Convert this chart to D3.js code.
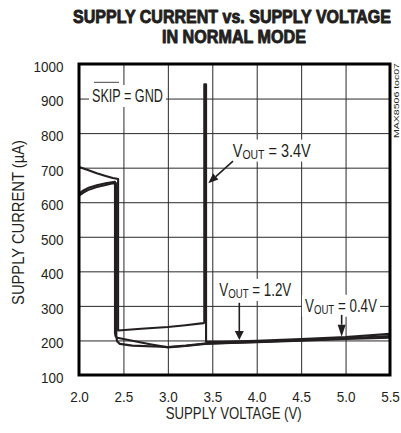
<!DOCTYPE html>
<html><head><meta charset="utf-8">
<script src="https://cdn.jsdelivr.net/npm/d3@7"></script>
<style>
html,body{margin:0;padding:0;background:#fff;}
svg{display:block;}
text{font-family:"Liberation Sans", Arial, sans-serif; fill:#231f20;}
</style></head><body>
<svg id="c" width="401" height="433"></svg>
<script>
// ---------- data ----------
const voltageTicks = [2.0, 2.5, 3.0, 3.5, 4.0, 4.5, 5.0, 5.5];
const currentTicks = [100, 200, 300, 400, 500, 600, 700, 800, 900, 1000];
// [supply voltage (V), supply current (uA)]
const vout34 = [[2.0,702],[2.1,693],[2.2,684],[2.3,676],[2.38,670],[2.44,667],[2.44,229],[2.7,234],[3.0,239],[3.2,244],[3.4,250],[3.41,251],[3.41,941],[3.43,941],[3.43,196],[3.6,196],[4.0,199],[4.5,204],[5.0,210],[5.5,219]];
const vout12 = [[2.0,625],[2.05,634],[2.1,641],[2.2,649],[2.3,655],[2.37,658],[2.405,659],[2.405,222],[2.41,213],[2.43,208],[2.6,199],[2.8,189],[3.0,180],[3.2,184],[3.42,190],[4.0,196],[4.5,201],[5.0,206],[5.5,213]];
const vout04 = [[2.0,619],[2.05,628],[2.1,635],[2.2,644],[2.3,650],[2.37,654],[2.42,655],[2.42,210],[2.43,197],[2.46,190],[2.6,185],[3.0,181],[3.2,185],[3.42,191],[4.0,195],[4.5,199],[5.0,204],[5.5,208]];
const seriesList = [vout34, vout12, vout04];

// ---------- layout ----------
const L = 79, R = 390, T = 64, B = 375;
const svg = d3.select('#c');
const x = d3.scaleLinear().domain([2, 5.5]).range([L, R]);
const y = d3.scaleLinear().domain([100, 1000]).range([B, T]);
const ink = '#231f20';

function fitText(parent, px, py, width, build, opts = {}) {
  const g = parent.append('g').attr('transform', `translate(${px},${py}) rotate(${opts.rot || 0})`);
  const t = g.append('text').attr('text-anchor', opts.anchor || 'start')
    .style('font-size', (opts.size || 15) + 'px')
    .style('font-weight', opts.weight || 'normal');
  if (typeof build === 'string') t.text(build); else build(t);
  if (opts.stroke) t.style('stroke', ink).style('stroke-width', opts.stroke).style('stroke-linejoin', 'round');
  const w = t.node().getComputedTextLength();
  t.attr('transform', `scale(${width / w},1)`);
  return t;
}

// grid
const gx = svg.append('g').attr('transform', `translate(0,${B})`)
  .call(d3.axisBottom(x).tickValues(voltageTicks).tickSize(-(B - T)).tickFormat(''));
gx.select('.domain').remove();
gx.selectAll('line').attr('stroke', '#2a2a2a').attr('stroke-width', 1);
const gy = svg.append('g').attr('transform', `translate(${L},0)`)
  .call(d3.axisLeft(y).tickValues(currentTicks).tickSize(-(R - L)).tickFormat(''));
gy.select('.domain').remove();
gy.selectAll('line').attr('stroke', '#2a2a2a').attr('stroke-width', 1);

// annotation backgrounds
const boxes = [
  {v: 2.146, i: 890, w: 71},
  {v: 3.730, i: 732, w: 78},
  {v: 3.579, i: 329, w: 72},
  {v: 4.543, i: 283, w: 72}
];
svg.append('g').selectAll('rect').data(boxes).join('rect')
  .attr('x', d => x(d.v) - 3).attr('y', d => y(d.i) - 17)
  .attr('width', d => d.w + 6).attr('height', 22).attr('fill', '#fff');

// curves
const line = d3.line().x(d => x(d[0])).y(d => y(d[1]));
svg.append('g').selectAll('path').data(seriesList).join('path')
  .attr('d', line).attr('fill', 'none').attr('stroke', ink)
  .attr('stroke-width', 2.1).attr('stroke-linejoin', 'round');

// frame
svg.append('rect').attr('x', L).attr('y', T).attr('width', R - L).attr('height', B - T)
  .attr('fill', 'none').attr('stroke', '#000').attr('stroke-width', 3);

// tick labels
const ay = svg.append('g').attr('transform', `translate(63.5,0)`)
  .call(d3.axisLeft(y).tickValues(currentTicks).tickSize(0).tickPadding(0).tickFormat(d3.format('d')));
ay.select('.domain').remove();
ay.selectAll('text').attr('x', 0).attr('dy', null).attr('y', 7.4)
  .attr('fill', ink).style('font-size', '15px').style('font-family', '"Liberation Sans", Arial, sans-serif')
  .attr('transform', 'scale(0.9,1)');
const ax = svg.append('g').attr('transform', `translate(0,${B})`)
  .call(d3.axisBottom(x).tickValues(voltageTicks).tickSize(0).tickPadding(0).tickFormat(d3.format('.1f')));
ax.select('.domain').remove();
ax.selectAll('text').attr('dy', null).attr('y', 26.7)
  .attr('fill', ink).style('font-size', '15px').style('font-family', '"Liberation Sans", Arial, sans-serif')
  .attr('transform', 'scale(0.9,1)');

// titles
fitText(svg, 232, 22.7, 318, 'SUPPLY CURRENT vs. SUPPLY VOLTAGE', {anchor: 'middle', size: 17.5, weight: 'bold', stroke: 0.9});
fitText(svg, 234, 42.7, 144, 'IN NORMAL MODE', {anchor: 'middle', size: 17.5, weight: 'bold', stroke: 0.9});
fitText(svg, 233.7, 418.5, 136, 'SUPPLY VOLTAGE (V)', {anchor: 'middle', size: 16});
fitText(svg, 24, 222.5, 165, 'SUPPLY CURRENT (\u00B5A)', {anchor: 'middle', size: 16, rot: -90});
fitText(svg, 399, 100.5, 75, 'MAX8506 toc07', {anchor: 'middle', size: 8, rot: -90});

// annotations
fitText(svg, x(2.146), y(890), 71, 'SKIP = GND', {size: 18});
svg.append('line').attr('x1', 94).attr('x2', 119).attr('y1', 82.3).attr('y2', 82.3)
  .attr('stroke', '#444').attr('stroke-width', 1);
function vout(val) {
  return t => {
    t.append('tspan').text('V');
    t.append('tspan').text('OUT').style('font-size', '13px').attr('dy', 2);
    t.append('tspan').text(' = ' + val).attr('dy', -2);
  };
}
fitText(svg, x(3.730), y(732), 78, vout('3.4V'), {size: 18});
fitText(svg, x(3.579), y(329), 72, vout('1.2V'), {size: 18});
fitText(svg, x(4.543), y(283), 72, vout('0.4V'), {size: 18});

function arrow(v1, i1, v2, i2, len, wid) {
  const x1 = x(v1), y1 = y(i1), x2 = x(v2), y2 = y(i2);
  const dx = x2 - x1, dy = y2 - y1, d = Math.hypot(dx, dy);
  const ux = dx / d, uy = dy / d;
  const bx = x2 - ux * len, by = y2 - uy * len;
  svg.append('line').attr('x1', x1).attr('y1', y1).attr('x2', bx).attr('y2', by)
    .attr('stroke', ink).attr('stroke-width', 1.6);
  svg.append('path').attr('d', `M${x2},${y2}L${bx - uy * wid / 2},${by + ux * wid / 2}L${bx + uy * wid / 2},${by - ux * wid / 2}Z`)
    .attr('fill', ink);
}
arrow(3.733, 719, 3.455, 655, 10, 8);
arrow(3.804, 309, 3.804, 201, 9, 9);
arrow(4.956, 274, 4.956, 211, 12, 8);
</script>
</body></html>
